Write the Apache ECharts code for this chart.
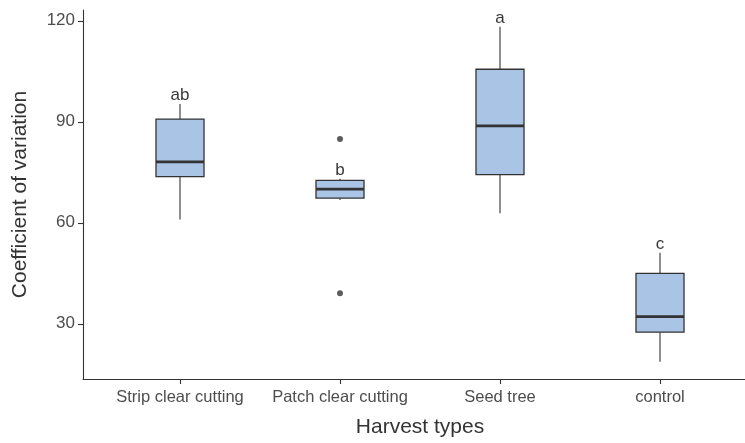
<!DOCTYPE html>
<html>
<head>
<meta charset="utf-8">
<script src="https://cdn.jsdelivr.net/npm/echarts@6.0.0/dist/echarts.min.js"></script>
<style>
  html, body { margin: 0; padding: 0; background: #fff; }
  #chart { width: 745px; height: 443px; }
</style>
</head>
<body>
<div id="chart"></div>
<script>
// ---- data ----
const categories = ['Strip clear cutting', 'Patch clear cutting', 'Seed tree', 'control'];
const whiskerLow = [61.0, 66.8, 62.8, 18.7];
const q1 = [73.7, 67.3, 74.3, 27.5];
const medians = [78.1, 70.0, 88.8, 32.1];
const q3 = [90.8, 72.6, 105.6, 45.0];
const whiskerHigh = [95.3, 73.1, 118.2, 51.1];
const outliers = [[1, 84.9], [1, 39.1]];
const letters = ['ab', 'b', 'a', 'c'];
const yTicks = [30, 60, 90, 120];
const yMin = 13.6, yMax = 123.2;

const FONT = "'Liberation Sans', Arial, sans-serif";
const boxData = categories.map((c, i) => [i, whiskerLow[i], q1[i], medians[i], q3[i], whiskerHigh[i]]);
const letterData = categories.map((c, i) => ({ value: [i, whiskerHigh[i]], letter: letters[i] }));

const chart = echarts.init(document.getElementById('chart'), null, { renderer: 'canvas' });

const BOX_W = 48;
function renderBox(params, api) {
  const x = api.value(0);
  const pLow = api.coord([x, api.value(1)]);
  const pQ1 = api.coord([x, api.value(2)]);
  const pMed = api.coord([x, api.value(3)]);
  const pQ3 = api.coord([x, api.value(4)]);
  const pHigh = api.coord([x, api.value(5)]);
  const cx = pMed[0];
  const stroke = '#333333';
  return {
    type: 'group',
    children: [
      { type: 'line', shape: { x1: cx, y1: pQ1[1], x2: cx, y2: pLow[1] }, style: { stroke: stroke, lineWidth: 1.1 } },
      { type: 'line', shape: { x1: cx, y1: pQ3[1], x2: cx, y2: pHigh[1] }, style: { stroke: stroke, lineWidth: 1.1 } },
      { type: 'rect', shape: { x: cx - BOX_W / 2, y: pQ3[1], width: BOX_W, height: pQ1[1] - pQ3[1] },
        style: { fill: '#aac4e6', stroke: stroke, lineWidth: 1.3 } },
      { type: 'line', shape: { x1: cx - BOX_W / 2, y1: pMed[1], x2: cx + BOX_W / 2, y2: pMed[1] },
        style: { stroke: stroke, lineWidth: 2.8 } }
    ]
  };
}

const option = {
  animation: false,
  backgroundColor: '#ffffff',
  grid: [
    { left: 100, right: 5, top: 10, bottom: 64 },
    { left: 83, right: 0, top: 10, bottom: 64 }
  ],
  xAxis: [
    {
      type: 'category', gridIndex: 0, data: categories, boundaryGap: true,
      axisLine: { show: false },
      axisTick: { show: true, alignWithLabel: true, interval: 0, length: 5, lineStyle: { color: '#333333', width: 1.1 } },
      axisLabel: { color: '#4d4d4d', fontSize: 16.5, fontFamily: FONT, margin: 10, interval: 0 },
      name: 'Harvest types', nameLocation: 'middle', nameGap: 38,
      nameTextStyle: { color: '#333333', fontSize: 21, fontFamily: FONT },
      splitLine: { show: false }
    },
    {
      type: 'value', gridIndex: 1, min: 0, max: 1,
      axisLine: { show: true, lineStyle: { color: '#333333', width: 1.1 } },
      axisTick: { show: false }, axisLabel: { show: false }, splitLine: { show: false }
    }
  ],
  yAxis: [
    {
      type: 'value', gridIndex: 0, min: yMin, max: yMax, offset: 17,
      axisLine: { show: true, lineStyle: { color: '#333333', width: 1.1 } },
      axisTick: { show: true, length: 5, customValues: yTicks, lineStyle: { color: '#333333', width: 1.1 } },
      axisLabel: { color: '#4d4d4d', fontSize: 17, fontFamily: FONT, margin: 8, customValues: yTicks },
      splitLine: { show: false },
      name: 'Coefficient of variation', nameLocation: 'middle', nameGap: 52,
      nameTextStyle: { color: '#333333', fontSize: 21, fontFamily: FONT }
    },
    { type: 'value', gridIndex: 1, min: 0, max: 1, show: false }
  ],
  series: [
    {
      type: 'custom', xAxisIndex: 0, yAxisIndex: 0,
      renderItem: renderBox,
      encode: { x: 0, y: [1, 2, 3, 4, 5] },
      data: boxData
    },
    {
      type: 'scatter', xAxisIndex: 0, yAxisIndex: 0,
      data: outliers, symbol: 'circle', symbolSize: 6,
      itemStyle: { color: '#333333' }
    },
    {
      type: 'scatter', xAxisIndex: 0, yAxisIndex: 0,
      data: letterData, symbolSize: 0,
      label: {
        show: true, position: 'top', distance: 0,
        formatter: p => p.data.letter,
        color: '#000000', fontSize: 17, fontFamily: FONT
      }
    }
  ]
};
chart.setOption(option);
</script>
</body>
</html>
